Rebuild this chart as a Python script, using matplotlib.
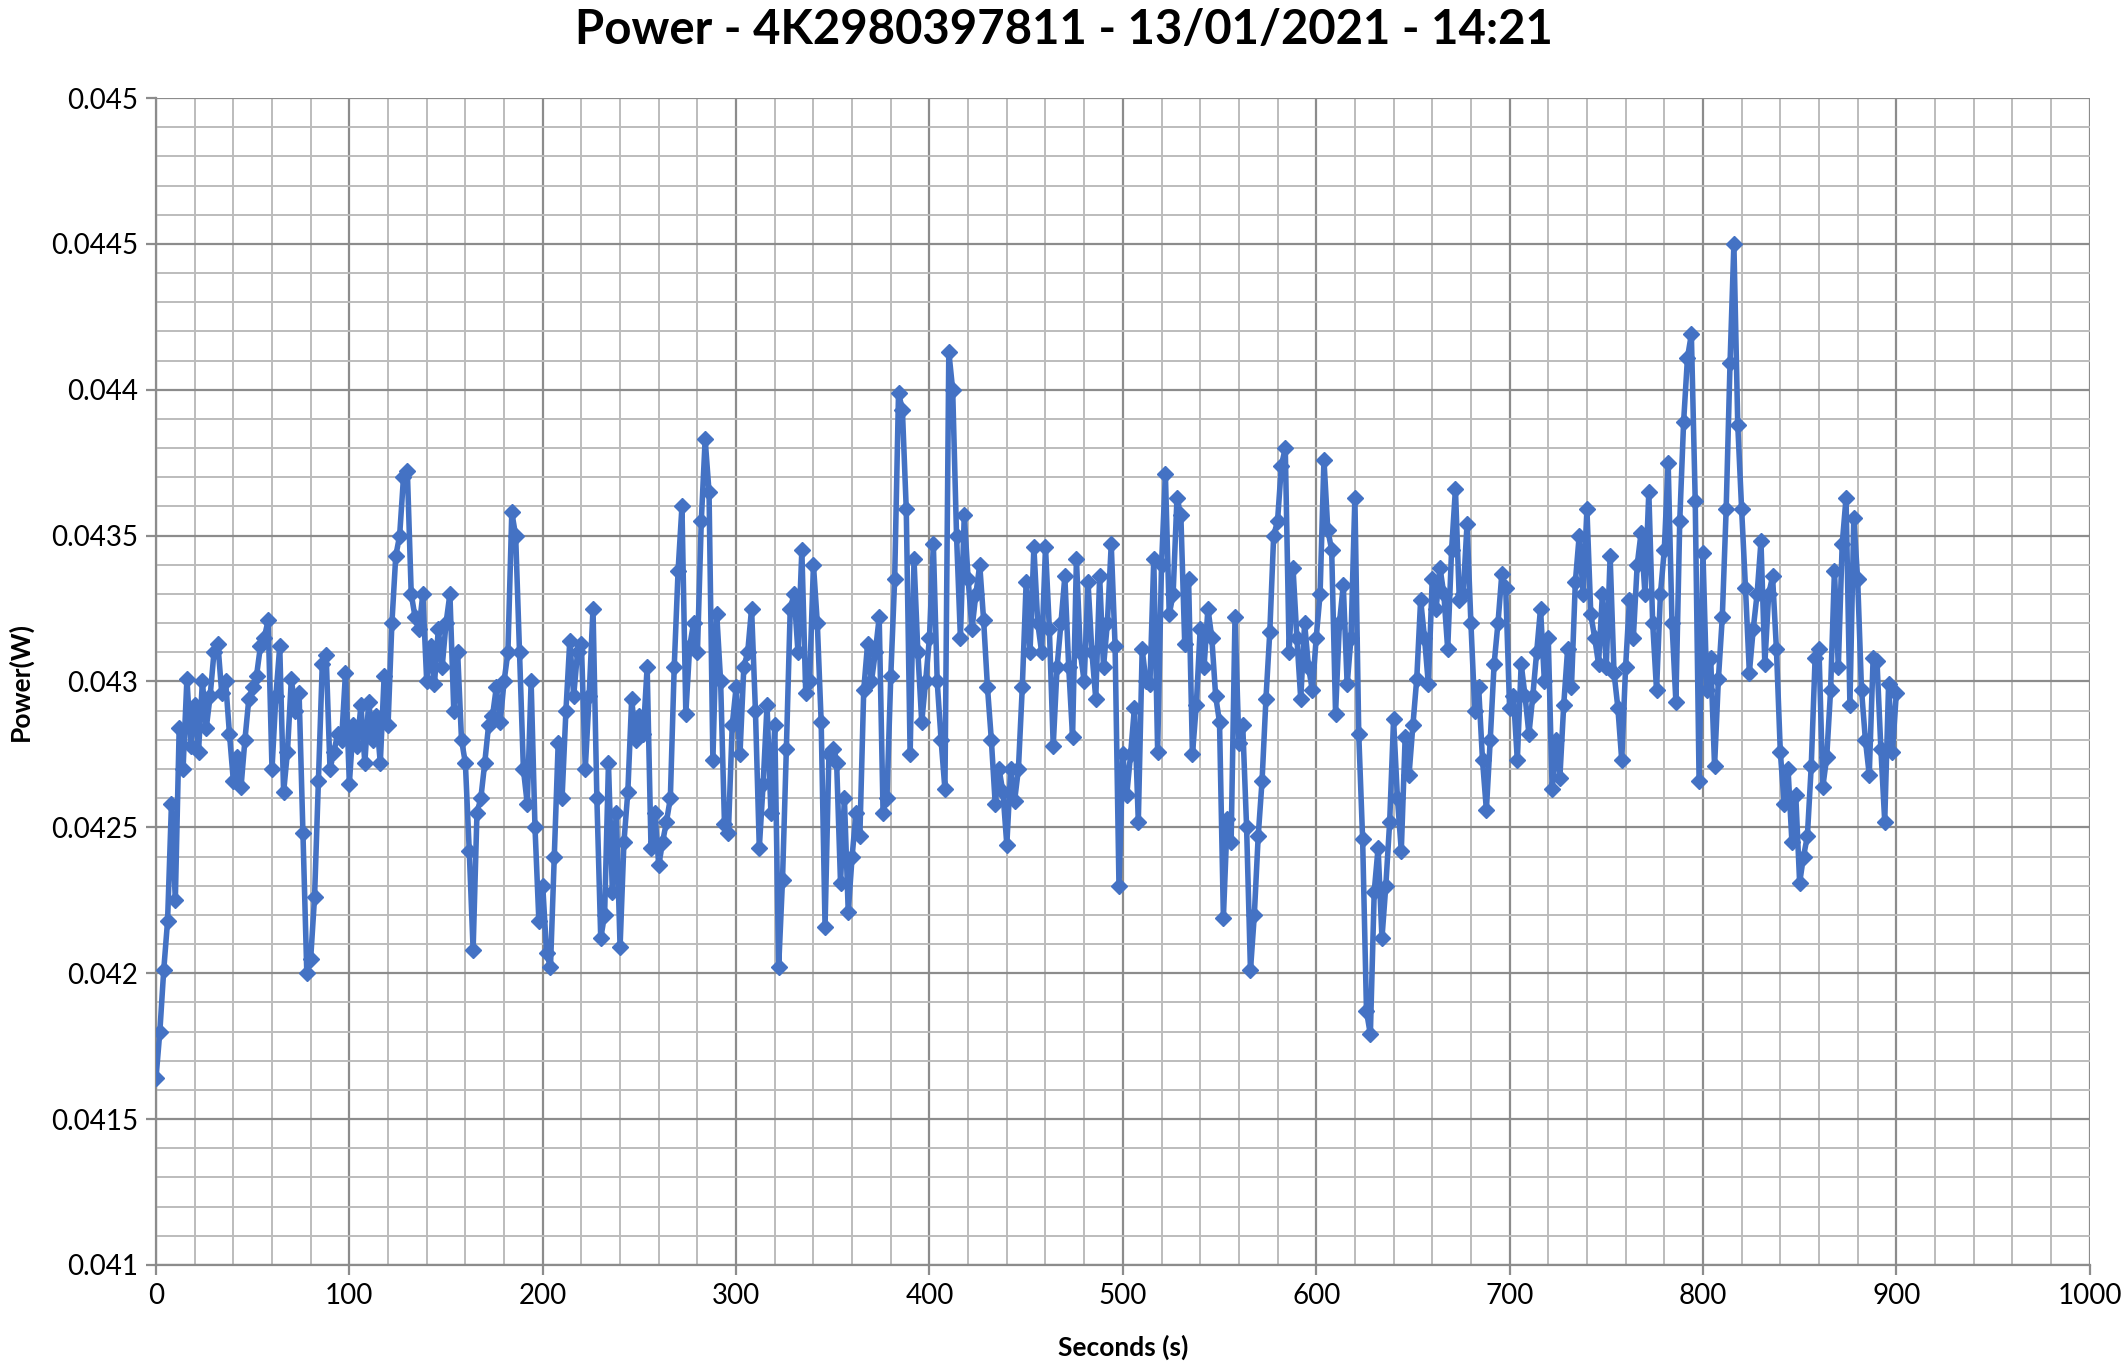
import numpy as np
import matplotlib
matplotlib.use("Agg")
import matplotlib.pyplot as plt
from matplotlib.ticker import MultipleLocator, FormatStrFormatter

# power readings in mW, one every 2 s, split by 100 s blocks
p_000 = [41.64, 41.80, 42.01, 42.18, 42.58, 42.25, 42.84, 42.70, 43.01, 42.78,
         42.92, 42.76, 43.00, 42.84, 42.95, 43.10, 43.13, 42.96, 43.00, 42.82,
         42.66, 42.74, 42.64, 42.80, 42.94, 42.98, 43.02, 43.12, 43.15, 43.21,
         42.70, 42.95, 43.12, 42.62, 42.76, 43.01, 42.90, 42.96, 42.48, 42.00,
         42.05, 42.26, 42.66, 43.06, 43.09, 42.70, 42.76, 42.82, 42.80, 43.03]
p_100 = [42.65, 42.85, 42.78, 42.92, 42.72, 42.93, 42.80, 42.88, 42.72, 43.02,
         42.85, 43.20, 43.43, 43.50, 43.70, 43.72, 43.30, 43.22, 43.18, 43.30,
         43.00, 43.12, 42.99, 43.18, 43.05, 43.20, 43.30, 42.90, 43.10, 42.80,
         42.72, 42.42, 42.08, 42.55, 42.60, 42.72, 42.85, 42.88, 42.98, 42.86,
         43.00, 43.10, 43.58, 43.50, 43.10, 42.70, 42.58, 43.00, 42.50, 42.18]
p_200 = [42.30, 42.07, 42.02, 42.40, 42.79, 42.60, 42.90, 43.14, 42.95, 43.10,
         43.13, 42.70, 42.95, 43.25, 42.60, 42.12, 42.20, 42.72, 42.28, 42.55,
         42.09, 42.45, 42.62, 42.94, 42.80, 42.88, 42.82, 43.05, 42.43, 42.55,
         42.37, 42.45, 42.52, 42.60, 43.05, 43.38, 43.60, 42.89, 43.12, 43.20,
         43.10, 43.55, 43.83, 43.65, 42.73, 43.23, 43.00, 42.51, 42.48, 42.85]
p_300 = [42.98, 42.75, 43.05, 43.10, 43.25, 42.90, 42.43, 42.65, 42.92, 42.55,
         42.85, 42.02, 42.32, 42.77, 43.25, 43.30, 43.10, 43.45, 42.96, 43.00,
         43.40, 43.20, 42.86, 42.16, 42.75, 42.77, 42.72, 42.31, 42.60, 42.21,
         42.40, 42.55, 42.47, 42.97, 43.13, 43.00, 43.10, 43.22, 42.55, 42.60,
         43.02, 43.35, 43.99, 43.93, 43.59, 42.75, 43.42, 43.10, 42.86, 43.00]
p_400 = [43.15, 43.47, 43.00, 42.80, 42.63, 44.13, 44.00, 43.50, 43.15, 43.57,
         43.35, 43.18, 43.30, 43.40, 43.21, 42.98, 42.80, 42.58, 42.70, 42.62,
         42.44, 42.70, 42.59, 42.70, 42.98, 43.34, 43.10, 43.46, 43.20, 43.10,
         43.46, 43.18, 42.78, 43.05, 43.20, 43.36, 43.05, 42.81, 43.42, 43.10,
         43.00, 43.34, 43.10, 42.94, 43.36, 43.05, 43.20, 43.47, 43.12, 42.30]
p_500 = [42.75, 42.61, 42.75, 42.91, 42.52, 43.11, 43.00, 42.99, 43.42, 42.76,
         43.40, 43.71, 43.23, 43.30, 43.63, 43.57, 43.13, 43.35, 42.75, 42.92,
         43.18, 43.05, 43.25, 43.15, 42.95, 42.86, 42.19, 42.53, 42.45, 43.22,
         42.79, 42.85, 42.50, 42.01, 42.20, 42.47, 42.66, 42.94, 43.17, 43.50,
         43.55, 43.74, 43.80, 43.10, 43.39, 43.15, 42.94, 43.20, 43.05, 42.97]
p_600 = [43.15, 43.30, 43.76, 43.52, 43.45, 42.89, 43.20, 43.33, 42.99, 43.15,
         43.63, 42.82, 42.46, 41.87, 41.79, 42.28, 42.43, 42.12, 42.30, 42.52,
         42.87, 42.60, 42.42, 42.81, 42.68, 42.85, 43.01, 43.28, 43.15, 42.99,
         43.35, 43.25, 43.39, 43.30, 43.11, 43.45, 43.66, 43.28, 43.30, 43.54,
         43.20, 42.90, 42.98, 42.73, 42.56, 42.80, 43.06, 43.20, 43.37, 43.32]
p_700 = [42.91, 42.95, 42.73, 43.06, 42.95, 42.82, 42.95, 43.10, 43.25, 43.00,
         43.15, 42.63, 42.80, 42.67, 42.92, 43.11, 42.98, 43.34, 43.50, 43.30,
         43.59, 43.23, 43.15, 43.06, 43.30, 43.05, 43.43, 43.03, 42.91, 42.73,
         43.05, 43.28, 43.15, 43.40, 43.51, 43.30, 43.65, 43.20, 42.97, 43.30,
         43.45, 43.75, 43.20, 42.93, 43.55, 43.89, 44.11, 44.19, 43.62, 42.66]
p_800 = [43.44, 42.97, 43.08, 42.71, 43.01, 43.22, 43.59, 44.09, 44.50, 43.88,
         43.59, 43.32, 43.03, 43.18, 43.30, 43.48, 43.06, 43.30, 43.36, 43.11,
         42.76, 42.58, 42.70, 42.45, 42.61, 42.31, 42.40, 42.47, 42.71, 43.08,
         43.11, 42.64, 42.74, 42.97, 43.38, 43.05, 43.47, 43.63, 42.92, 43.56,
         43.35, 42.97, 42.80, 42.68, 43.08, 43.07, 42.77, 42.52, 42.99, 42.76,
         42.96]

power = np.array(p_000 + p_100 + p_200 + p_300 + p_400 +
                 p_500 + p_600 + p_700 + p_800) / 1000.0
seconds = np.arange(len(power)) * 2

title = "Power - 4K2980397811 - 13/01/2021 - 14:21"

plt.rcParams["font.family"] = ["Lato", "DejaVu Sans"]

fig = plt.figure(figsize=(21.28, 13.69), dpi=100)
ax = fig.add_axes([0.0733, 0.076, 0.9087, 0.8524])

ax.plot(seconds, power, color="#4472C4", linewidth=4.0,
        marker="D", markersize=8.5, zorder=3)

ax.set_xlim(0, 1000)
ax.set_ylim(0.041, 0.045)
ax.xaxis.set_major_locator(MultipleLocator(100))
ax.xaxis.set_minor_locator(MultipleLocator(20))
ax.yaxis.set_major_locator(MultipleLocator(0.0005))
ax.yaxis.set_minor_locator(MultipleLocator(0.0001))
ax.yaxis.set_major_formatter(FormatStrFormatter("%g"))

ax.grid(which="major", color="#8c8c8c", linewidth=1.6)
ax.grid(which="minor", color="#bcbcbc", linewidth=1.4)
ax.set_axisbelow(True)

for s in ["top", "right"]:
    ax.spines[s].set_visible(False)
for s in ["left", "bottom"]:
    ax.spines[s].set_color("#8c8c8c")
    ax.spines[s].set_linewidth(1.6)

ax.tick_params(which="major", length=7, width=1.6, color="#8c8c8c",
               labelsize=20, pad=6)
ax.tick_params(which="minor", length=0)

fig.text(0.5, 0.978, title, ha="center", va="center",
         fontsize=34, fontweight="bold")
fig.text(0.528, 0.016, "Seconds (s)", ha="center", va="center",
         fontsize=19, fontweight="bold")
fig.text(0.0095, 0.502, "Power(W)", ha="center", va="center",
         rotation=90, fontsize=19, fontweight="bold")

fig.savefig("out.png", dpi=100, facecolor="white")
